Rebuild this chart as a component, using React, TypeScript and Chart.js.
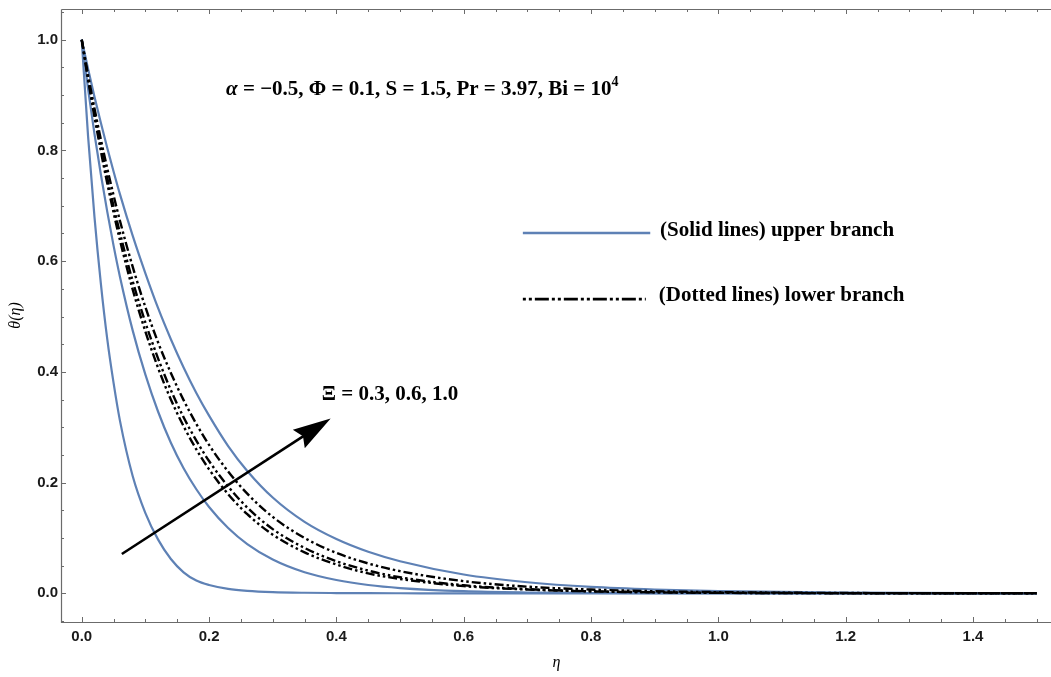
import { useEffect, useRef } from 'react';
import { Chart, registerables } from 'chart.js';

Chart.register(...registerables);

// Similarity variable η at which the profiles are sampled
const ETA = [0, 0.01, 0.02, 0.03, 0.04, 0.05, 0.06, 0.08, 0.10, 0.12, 0.14, 0.16, 0.18, 0.20, 0.23, 0.26, 0.30, 0.35, 0.40, 0.45, 0.50, 0.60, 0.70, 0.80, 0.90, 1.00, 1.20, 1.50];

// Temperature profiles θ(η), upper branch (solid) for Ξ = 0.3, 0.6, 1.0
const UPPER_XI_03 = [1.000, 0.825, 0.680, 0.560, 0.460, 0.380, 0.312, 0.212, 0.145, 0.097, 0.062, 0.038, 0.023, 0.015, 0.008, 0.0045, 0.0022, 0.001, 0.0005, 0.0002, 0.0001, 0, 0, 0, 0, 0, 0, 0];
const UPPER_XI_06 = [1.000, 0.911, 0.830, 0.757, 0.690, 0.628, 0.572, 0.475, 0.395, 0.328, 0.272, 0.226, 0.188, 0.156, 0.118, 0.089, 0.061, 0.038, 0.024, 0.015, 0.0095, 0.0038, 0.0015, 0.0006, 0.0002, 0.0001, 0, 0];
const UPPER_XI_10 = [1.000, 0.947, 0.897, 0.850, 0.805, 0.762, 0.721, 0.646, 0.578, 0.515, 0.459, 0.408, 0.362, 0.321, 0.266, 0.221, 0.173, 0.129, 0.098, 0.075, 0.058, 0.034, 0.020, 0.0115, 0.0068, 0.004, 0.0013, 0.0002];

// Lower branch (dash-dotted) for Ξ = 0.3, 0.6, 1.0
const LOWER_XI_03 = [1.000, 0.928, 0.861, 0.799, 0.741, 0.688, 0.638, 0.549, 0.473, 0.407, 0.350, 0.302, 0.260, 0.224, 0.179, 0.143, 0.106, 0.074, 0.052, 0.036, 0.026, 0.013, 0.0068, 0.0035, 0.0018, 0.0009, 0.0002, 0];
const LOWER_XI_06 = [1.000, 0.931, 0.867, 0.807, 0.751, 0.699, 0.651, 0.564, 0.489, 0.424, 0.367, 0.318, 0.276, 0.239, 0.193, 0.155, 0.116, 0.082, 0.058, 0.041, 0.029, 0.0145, 0.0075, 0.0038, 0.002, 0.001, 0.0003, 0];
const LOWER_XI_10 = [1.000, 0.936, 0.876, 0.820, 0.768, 0.719, 0.673, 0.590, 0.517, 0.453, 0.398, 0.349, 0.306, 0.268, 0.220, 0.180, 0.138, 0.100, 0.073, 0.054, 0.040, 0.022, 0.012, 0.0068, 0.0038, 0.0021, 0.0006, 0.0001];

const XI_VALUES = [0.3, 0.6, 1.0];

// Axis ranges and tick spacing
const X_RANGE = [-0.031, 1.5225];
const Y_RANGE = [-0.0518, 1.0555];
const X_TICK_RANGE = [0, 1.5];
const Y_TICK_RANGE = [-0.05, 1.05];
const MAJOR_STEP = 0.2;
const MINOR_STEP = 0.05;

// Annotation anchors in data coordinates
const ARROW_FROM = [0.063, 0.071];
const ARROW_TO = [0.391, 0.316];
const PARAM_POS = [0.2267, 0.901];
const XI_LABEL_POS = [0.377, 0.349];
const LEGEND_SOLID = { x0: 0.6929, x1: 0.893, y: 0.651, tx: 0.9085, ty: 0.6463, text: '(Solid lines) upper branch' };
const LEGEND_DOTTED = { x0: 0.6929, x1: 0.886, y: 0.5316, tx: 0.9065, ty: 0.528, text: '(Dotted lines) lower branch' };

const BLUE = '#5e81b5';
const FRAME = '#6b6b6b';
const DASH_DOT = [9, 3, 2.5, 3, 2.5, 3];
const SERIF_BOLD = 'bold 21px "Liberation Serif"';

const points = (ys: number[]) => ETA.map((x, i) => ({ x, y: ys[i] }));

const solid = (ys: number[]) => ({
  data: points(ys),
  borderColor: BLUE,
  borderWidth: 2.2,
  pointRadius: 0,
  cubicInterpolationMode: 'monotone' as const,
  order: 1,
});

const dotted = (ys: number[]) => ({
  data: points(ys),
  borderColor: '#000',
  borderWidth: 2.4,
  borderDash: DASH_DOT,
  pointRadius: 0,
  cubicInterpolationMode: 'monotone' as const,
  order: 0,
});

type Seg = { text: string; font: string; dy?: number };

function drawRich(ctx: CanvasRenderingContext2D, segs: Seg[], x: number, y: number) {
  let cx = x;
  for (const s of segs) {
    ctx.font = s.font;
    ctx.fillText(s.text, cx, y + (s.dy || 0));
    cx += ctx.measureText(s.text).width;
  }
}

const decorations = {
  id: 'decorations',
  afterDatasetsDraw(chart: any) {
    const { ctx, chartArea: a, scales } = chart;
    const xs = scales.x;
    const ys = scales.y;
    const px = (v: number) => xs.getPixelForValue(v);
    const py = (v: number) => ys.getPixelForValue(v);
    ctx.save();

    // frame lines: left, top, bottom
    ctx.strokeStyle = FRAME;
    ctx.lineWidth = 1.2;
    ctx.setLineDash([]);
    ctx.beginPath();
    ctx.moveTo(a.left - 0.5, a.top + 0.5);
    ctx.lineTo(a.left - 0.5, a.bottom + 0.5);
    ctx.lineTo(a.right, a.bottom + 0.5);
    ctx.moveTo(a.left - 0.5, a.top + 0.5);
    ctx.lineTo(a.right, a.top + 0.5);
    ctx.stroke();

    // inward tick marks, major every 0.2, minor every 0.05
    ctx.lineWidth = 1;
    ctx.beginPath();
    const nx = Math.round((X_TICK_RANGE[1] - X_TICK_RANGE[0]) / MINOR_STEP);
    for (let i = 0; i <= nx; i++) {
      const v = X_TICK_RANGE[0] + i * MINOR_STEP;
      const major = Math.abs(v / MAJOR_STEP - Math.round(v / MAJOR_STEP)) < 1e-6;
      const len = major ? 5 : 3;
      const x = Math.round(px(v)) + 0.5;
      ctx.moveTo(x, a.bottom);
      ctx.lineTo(x, a.bottom - len);
      ctx.moveTo(x, a.top);
      ctx.lineTo(x, a.top + len);
    }
    const ny = Math.round((Y_TICK_RANGE[1] - Y_TICK_RANGE[0]) / MINOR_STEP);
    for (let i = 0; i <= ny; i++) {
      const v = Y_TICK_RANGE[0] + i * MINOR_STEP;
      const major = Math.abs(v / MAJOR_STEP - Math.round(v / MAJOR_STEP)) < 1e-6;
      const len = major ? 5 : 3;
      const y = Math.round(py(v)) + 0.5;
      ctx.moveTo(a.left - 1, y);
      ctx.lineTo(a.left - 1 + len, y);
    }
    ctx.stroke();

    // arrow showing the direction of increasing Ξ
    const x0 = px(ARROW_FROM[0]);
    const y0 = py(ARROW_FROM[1]);
    const x1 = px(ARROW_TO[0]);
    const y1 = py(ARROW_TO[1]);
    const L = Math.hypot(x1 - x0, y1 - y0);
    const ux = (x1 - x0) / L;
    const uy = (y1 - y0) / L;
    const nxv = -uy;
    const nyv = ux;
    const headLen = 38;
    const headHalf = 11;
    ctx.strokeStyle = '#000';
    ctx.fillStyle = '#000';
    ctx.lineWidth = 2.6;
    ctx.beginPath();
    ctx.moveTo(x0, y0);
    ctx.lineTo(x1 - ux * (headLen - 6), y1 - uy * (headLen - 6));
    ctx.stroke();
    ctx.beginPath();
    ctx.moveTo(x1, y1);
    ctx.lineTo(x1 - ux * headLen + nxv * headHalf, y1 - uy * headLen + nyv * headHalf);
    ctx.lineTo(x1 - ux * (headLen - 5), y1 - uy * (headLen - 5));
    ctx.lineTo(x1 - ux * headLen - nxv * headHalf, y1 - uy * headLen - nyv * headHalf);
    ctx.closePath();
    ctx.fill();

    // text annotations
    ctx.textBaseline = 'alphabetic';
    ctx.textAlign = 'left';
    ctx.fillStyle = '#000';
    drawRich(ctx, [
      { text: 'α', font: 'italic bold 21px "Liberation Serif"' },
      { text: ' = −0.5, Φ = 0.1, S = 1.5, Pr = 3.97, Bi = 10', font: SERIF_BOLD },
      { text: '4', font: 'bold 14px "Liberation Serif"', dy: -9 },
    ], px(PARAM_POS[0]), py(PARAM_POS[1]));

    ctx.font = SERIF_BOLD;
    ctx.fillText('Ξ = ' + XI_VALUES.map((v) => v.toFixed(1)).join(', '), px(XI_LABEL_POS[0]), py(XI_LABEL_POS[1]));

    // legend entries
    ctx.strokeStyle = BLUE;
    ctx.lineWidth = 2.5;
    ctx.beginPath();
    ctx.moveTo(px(LEGEND_SOLID.x0), py(LEGEND_SOLID.y));
    ctx.lineTo(px(LEGEND_SOLID.x1), py(LEGEND_SOLID.y));
    ctx.stroke();
    ctx.fillText(LEGEND_SOLID.text, px(LEGEND_SOLID.tx), py(LEGEND_SOLID.ty));

    ctx.strokeStyle = '#000';
    ctx.lineWidth = 2.8;
    ctx.setLineDash([3, 3, 3, 3, 14, 3]);
    ctx.beginPath();
    ctx.moveTo(px(LEGEND_DOTTED.x0), py(LEGEND_DOTTED.y));
    ctx.lineTo(px(LEGEND_DOTTED.x1), py(LEGEND_DOTTED.y));
    ctx.stroke();
    ctx.setLineDash([]);
    ctx.fillText(LEGEND_DOTTED.text, px(LEGEND_DOTTED.tx), py(LEGEND_DOTTED.ty));

    ctx.restore();
  },
};

const tickFont = { family: '"Liberation Sans", Arial, sans-serif', size: 15, weight: 'bold' as const };
const titleFont = { family: '"Liberation Serif", serif', size: 16, style: 'italic' as const };

export default function App() {
  const canvasRef = useRef<HTMLCanvasElement>(null);

  useEffect(() => {
    if (!canvasRef.current) return;
    const chart = new Chart(canvasRef.current, {
      type: 'line',
      data: {
        datasets: [
          solid(UPPER_XI_03),
          solid(UPPER_XI_06),
          solid(UPPER_XI_10),
          dotted(LOWER_XI_03),
          dotted(LOWER_XI_06),
          dotted(LOWER_XI_10),
        ],
      },
      options: {
        animation: false,
        responsive: false,
        events: [],
        layout: { padding: { top: 9, right: 0, bottom: 0, left: 0 } },
        plugins: { legend: { display: false }, tooltip: { enabled: false } },
        scales: {
          x: {
            type: 'linear',
            min: X_RANGE[0],
            max: X_RANGE[1],
            grid: { display: false, drawTicks: false },
            border: { display: false },
            ticks: {
              stepSize: MAJOR_STEP,
              includeBounds: false,
              padding: 6,
              maxRotation: 0,
              autoSkip: false,
              color: '#1a1a1a',
              font: tickFont,
              callback: (v: any) => Number(v).toFixed(1),
            },
            title: { display: true, text: 'η', color: '#000', font: titleFont, padding: { top: 0, bottom: 5 } },
            afterFit: (s: any) => { s.height = 55; s.paddingLeft = 0; s.paddingRight = 0; },
          },
          y: {
            type: 'linear',
            min: Y_RANGE[0],
            max: Y_RANGE[1],
            grid: { display: false, drawTicks: false },
            border: { display: false },
            ticks: {
              stepSize: MAJOR_STEP,
              includeBounds: false,
              padding: 4,
              autoSkip: false,
              color: '#1a1a1a',
              font: tickFont,
              callback: (v: any) => Number(v).toFixed(1),
            },
            title: { display: true, text: 'θ(η)', color: '#000', font: titleFont, padding: { top: 6, bottom: 0 } },
            afterFit: (s: any) => { s.width = 62; s.paddingTop = 0; s.paddingBottom = 0; },
          },
        },
      },
      plugins: [decorations],
    } as any);
    return () => chart.destroy();
  }, []);

  return (
    <div style={{ position: 'fixed', left: 0, top: 0, width: 1051, height: 677, background: '#fff' }}>
      <canvas ref={canvasRef} width={1051} height={677} style={{ display: 'block' }} />
    </div>
  );
}
